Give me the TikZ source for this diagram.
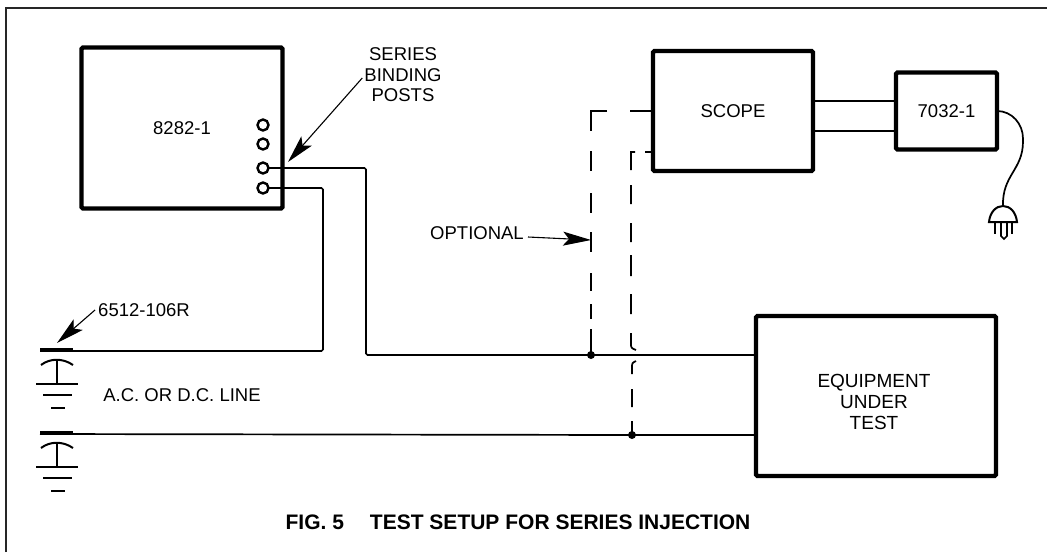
\documentclass[tikz,border=0pt]{standalone}
\usepackage{fontspec}
\setmainfont{Liberation Sans}
\usetikzlibrary{arrows.meta, positioning, calc}

\tikzset{
    capground/.pic={
        \draw[line width=3.4pt] (0,-1) -- (33,-1);
        \draw[line width=2pt] (1,14) .. controls (10,7) and (23,7) .. (33,14);
        \draw[line width=2pt] (17,9) -- (17,33);
        \draw[wire] (-4,33) -- (38,33);
        \draw[wire] (3,44) -- (32,44);
        \draw[wire] (11,57) -- (25,57);
    }
}

\begin{document}
\begin{tikzpicture}[
    x=1pt, y=-1pt,
    font=\fontsize{18.5}{20.5}\selectfont,
    unitbox/.style={rectangle, draw, line width=4.4pt, rounded corners=1.5pt, outer sep=0pt, inner sep=0pt, align=center, fill=white},
    post/.style={circle, draw, line width=2.4pt, minimum size=11pt, inner sep=0pt, outer sep=0pt},
    tapdot/.style={circle, fill, minimum size=8pt, inner sep=0pt, outer sep=0pt},
    caption/.style={align=center, inner sep=0pt},
    wire/.style={line width=1.7pt, rounded corners=1.5pt},
    optline/.style={line width=1.7pt},
    pointer/.style={line width=1.1pt, -{Stealth[length=28pt, width=14pt, inset=6pt]}}
]
    \useasboundingbox (0,0) rectangle (1047,552);
    % sheet edge, open at right and bottom
    \draw[line width=2.4pt, draw=black!85] (6,552) -- (6,8) -- (1047,8);

    \node[unitbox, minimum width=201pt, minimum height=161pt] (meter) at (182,128) {\raisebox{-4pt}{8282-1}};
    \node[unitbox, minimum width=160pt, minimum height=120pt] (scope) at (733,111) {\raisebox{-3pt}{SCOPE}};
    \node[unitbox, minimum width=101pt, minimum height=77pt, right=83pt of scope] (filter) {\raisebox{-1pt}{7032-1}};
    \node[unitbox, minimum width=240pt, minimum height=160pt] (eut) at (876,396) {};
    \node[caption, font=\fontsize{19}{21}\selectfont] (euttext) at (874,402) {EQUIPMENT\\UNDER\\TEST};

    \node[post] (post1) at (263,125) {};
    \node[post, below=8pt of post1] (post2) {};
    \node[post, below=13pt of post2] (post3) {};
    \node[post, below=9pt of post3] (post4) {};

    \node[tapdot] (dota) at (591,355) {};
    \node[tapdot] (dotb) at (632,435) {};

    \coordinate (capa) at (40,351);
    \coordinate (capb) at (40,434);
    \pic at (capa) {capground};
    \pic at (capb) {capground};

    \coordinate (benda) at (366,168);
    \coordinate (bendb) at (323,188);
    \coordinate (scopetap) at ([yshift=-41pt]scope.west);
    \coordinate (hopa) at (636,350);
    \coordinate (hopb) at (636,361);

    \draw[wire] (post3.east) -- (benda) |- (dota.center) -- (dota -| eut.west);
    \draw[wire] (post4.east) -- (bendb) |- (capa);
    \draw[wire] (capb) -- (dotb.center) -- (dotb -| eut.west);
    \draw[wire] ([yshift=10pt]scope.east) -- ([yshift=10pt]scope.east -| filter.west);
    \draw[wire] ([yshift=-20pt]scope.east) -- ([yshift=-20pt]scope.east -| filter.west);

    % optional probe leads
    \draw[optline, dash pattern=on 23pt off 23pt on 36pt off 20pt on 20pt off 22pt on 20pt off 19pt on 20pt off 21pt on 18pt off 13pt on 15pt off 10pt] (scope.west) -| (dota.center);
    \draw[optline, dash pattern=on 8pt off 10pt on 22pt off 15pt on 19pt off 19pt on 19pt off 13pt on 21pt off 18pt on 20pt off 19pt on 30pt off 5pt] (scopetap) -| (631,343) .. controls (631,348) .. (hopa);
    \draw[optline, dash pattern=on 14pt off 14pt on 18pt off 15pt on 30pt off 5pt] (dotb.center) -- (632,368) .. controls (632,363) .. (hopb);

    % plug on the filter lead
    \coordinate (plugtop) at (1003,206);
    \draw[wire] (filter.east) .. controls (1012,111) and (1023,124) .. (1023,140) .. controls (1023,170) and (1002,175) .. (plugtop);
    \draw[line width=2pt] (989,222) .. controls (990,212) and (996,206) .. (plugtop) .. controls (1010,206) and (1016,212) .. (1017,222) -- cycle;
    \draw[line width=2pt] (995,222) -- (995,234);
    \draw[line width=2pt] (1012,222) -- (1012,234);
    \draw[line width=1.6pt] (1001,222) -- (1001,236) -- (1004,239) -- (1007,236) -- (1007,222);

    \node[caption] (posttext) at (403,75) {SERIES\\BINDING\\POSTS};
    \node[caption] (linetext) at (182,395) {A.C. OR D.C. LINE};
    \node[caption] (caplabel) at (144,310) {6512-106R};
    \node[caption] (opttext) at (477,233) {OPTIONAL};
    \node[caption, font=\fontsize{21}{24}\bfseries] (title) at (518,522) {FIG. 5\hspace{26pt}TEST SETUP FOR SERIES INJECTION};

    \coordinate (posttail) at ([shift={(-2pt,-3pt)}]posttext.west);
    \coordinate (opttail) at (528,237);
    \draw[pointer] (posttail) -- (288,162);
    \draw[pointer] ([xshift=-3pt]caplabel.west) -- (57,343);
    \draw[pointer] (opttail) -- (dota |- 0,240);
\end{tikzpicture}
\end{document}
